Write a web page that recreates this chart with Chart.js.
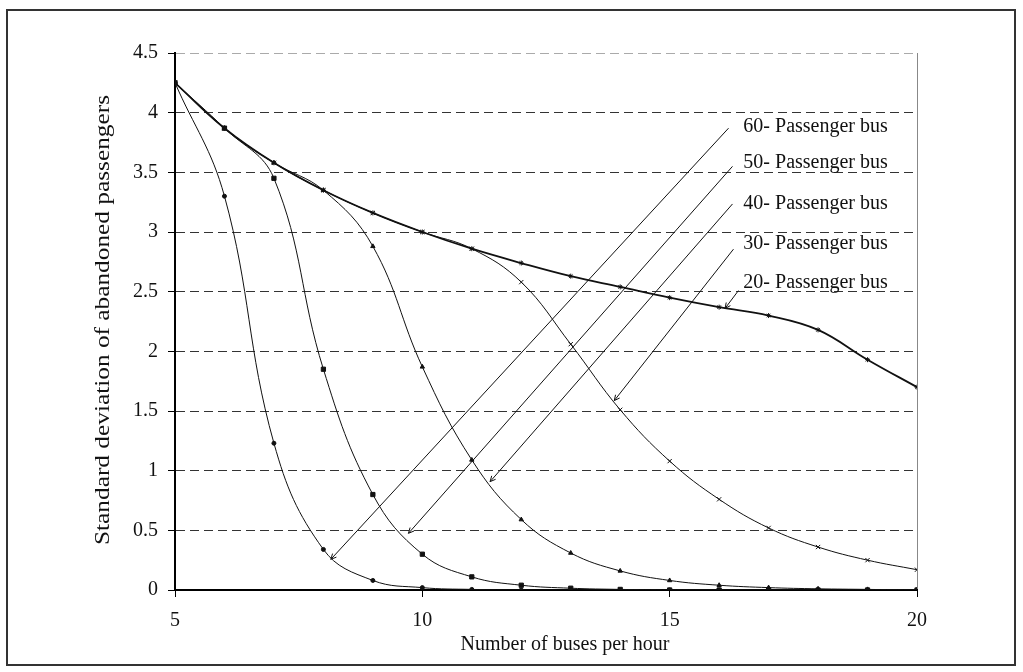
<!DOCTYPE html>
<html>
<head>
<meta charset="utf-8">
<script src="https://cdn.jsdelivr.net/npm/chart.js@4/dist/chart.umd.min.js"></script>
<style>
  html, body { margin: 0; padding: 0; background: #fff; }
</style>
</head>
<body>
<canvas id="grafico" width="1023" height="672"></canvas>
<script>
// Number of buses per hour
const buses = [5, 6, 7, 8, 9, 10, 11, 12, 13, 14, 15, 16, 17, 18, 19, 20];

// Standard deviation of abandoned passengers, one list per bus size
const sd60 = [4.25, 3.30, 1.23, 0.34, 0.08, 0.02, 0.005, 0, 0, 0, 0, 0, 0, 0, 0, 0];
const sd50 = [4.25, 3.87, 3.45, 1.85, 0.80, 0.30, 0.11, 0.04, 0.015, 0.005, 0, 0, 0, 0, 0, 0];
const sd40 = [4.25, 3.87, 3.58, 3.35, 2.88, 1.87, 1.09, 0.59, 0.31, 0.16, 0.08, 0.04, 0.02, 0.01, 0.005, 0];
const sd30 = [4.25, 3.87, 3.58, 3.35, 3.16, 3.00, 2.86, 2.58, 2.06, 1.51, 1.08, 0.76, 0.52, 0.36, 0.25, 0.17];
const sd20 = [4.25, 3.87, 3.58, 3.35, 3.16, 3.00, 2.86, 2.74, 2.63, 2.54, 2.45, 2.37, 2.30, 2.18, 1.93, 1.70];

const seriesNames = ['60- Passenger bus', '50- Passenger bus', '40- Passenger bus', '30- Passenger bus', '20- Passenger bus'];

const serif = 'Liberation Serif, Times New Roman, serif';

function pares(valores) {
  return buses.map((b, i) => ({ x: b, y: valores[i] }));
}

// label callouts: text anchor and arrow, in data units
const callouts = [
  { text: seriesNames[0], at: [16.49, 3.885], from: [16.19, 3.87], to: [8.15, 0.257] },
  { text: seriesNames[1], at: [16.49, 3.577], from: [16.27, 3.55], to: [9.72, 0.475] },
  { text: seriesNames[2], at: [16.49, 3.236], from: [16.27, 3.235], to: [11.37, 0.908] },
  { text: seriesNames[3], at: [16.49, 2.90], from: [16.29, 2.856], to: [13.88, 1.587] },
  { text: seriesNames[4], at: [16.49, 2.571], from: [16.39, 2.509], to: [16.12, 2.36] }
];

const notas = {
  id: 'notas',
  beforeDraw(chart) {
    const ctx = chart.ctx;
    ctx.save();
    ctx.fillStyle = '#fff';
    ctx.fillRect(0, 0, chart.width, chart.height);
    ctx.restore();
  },
  afterDraw(chart) {
    const { ctx, scales: { x, y } } = chart;
    ctx.save();
    ctx.strokeStyle = '#111';
    ctx.fillStyle = '#111';
    ctx.lineWidth = 1;
    ctx.font = '20px ' + serif;
    ctx.textBaseline = 'middle';
    ctx.textAlign = 'left';
    callouts.forEach(c => {
      const x1 = x.getPixelForValue(c.from[0]), y1 = y.getPixelForValue(c.from[1]);
      const x2 = x.getPixelForValue(c.to[0]), y2 = y.getPixelForValue(c.to[1]);
      ctx.beginPath();
      ctx.moveTo(x1, y1);
      ctx.lineTo(x2, y2);
      ctx.stroke();
      // small arrow head at the curve end
      const ang = Math.atan2(y2 - y1, x2 - x1);
      ctx.beginPath();
      ctx.moveTo(x2 - 6 * Math.cos(ang - 0.45), y2 - 6 * Math.sin(ang - 0.45));
      ctx.lineTo(x2, y2);
      ctx.lineTo(x2 - 6 * Math.cos(ang + 0.45), y2 - 6 * Math.sin(ang + 0.45));
      ctx.stroke();
      ctx.fillText(c.text, x.getPixelForValue(c.at[0]), y.getPixelForValue(c.at[1]));
    });

    // axis titles
    ctx.textAlign = 'center';
    ctx.fillText('Number of buses per hour', 565, 645);

    const yTitle = 'Standard deviation of abandoned passengers';
    const stretch = 450 / ctx.measureText(yTitle).width;
    ctx.save();
    ctx.translate(104, 320);
    ctx.rotate(-Math.PI / 2);
    ctx.scale(stretch, 1);
    ctx.fillText(yTitle, 0, 0);
    ctx.restore();

    // outer frame
    ctx.strokeStyle = '#333';
    ctx.lineWidth = 2;
    ctx.strokeRect(7, 10, 1008, 655);
    ctx.restore();
  }
};

const ctx = document.getElementById('grafico').getContext('2d');
const grafico = new Chart(ctx, {
  type: 'line',
  data: {
    datasets: [
      { label: seriesNames[0], data: pares(sd60), pointStyle: 'circle', pointRadius: 2, borderWidth: 1 },
      { label: seriesNames[1], data: pares(sd50), pointStyle: 'rect', pointRadius: 3, borderWidth: 1 },
      { label: seriesNames[2], data: pares(sd40), pointStyle: 'triangle', pointRadius: 2.5, borderWidth: 1 },
      { label: seriesNames[3], data: pares(sd30), pointStyle: 'crossRot', pointRadius: 3, borderWidth: 1 },
      { label: seriesNames[4], data: pares(sd20), pointStyle: 'star', pointRadius: 2.5, borderWidth: 1.8 }
    ].map(d => Object.assign({
      borderColor: '#111',
      backgroundColor: '#111',
      pointBorderColor: '#111',
      pointBackgroundColor: '#111',
      pointBorderWidth: 1,
      tension: 0.4,
      fill: false
    }, d))
  },
  options: {
    responsive: false,
    animation: false,
    layout: { padding: { top: 53, right: 106, bottom: 0, left: 0 } },
    plugins: {
      legend: { display: false },
      tooltip: { enabled: false }
    },
    scales: {
      x: {
        type: 'linear',
        min: 5,
        max: 20,
        afterFit: s => { s.height = 82; },
        border: { display: true, color: '#000', width: 2 },
        grid: {
          color: c => (c.tick && c.tick.value === 20 ? '#888' : 'rgba(0,0,0,0)'),
          tickColor: '#000',
          tickLength: 7,
          lineWidth: 1
        },
        ticks: {
          stepSize: 5,
          color: '#111',
          padding: 12,
          maxRotation: 0,
          font: { family: serif, size: 20 }
        }
      },
      y: {
        min: 0,
        max: 4.5,
        afterFit: s => { s.width = 175; },
        border: { display: true, color: '#000', width: 2, dash: [9, 5] },
        grid: {
          color: c => {
            if (!c.tick || c.tick.value === 0) return 'rgba(0,0,0,0)';
            return c.tick.value === 4.5 ? '#aaa' : '#333';
          },
          tickColor: '#000',
          tickLength: 7,
          tickBorderDash: [],
          lineWidth: 1
        },
        ticks: {
          stepSize: 0.5,
          color: '#111',
          padding: 10,
          font: { family: serif, size: 20 },
          callback: v => String(v)
        }
      }
    }
  },
  plugins: [notas]
});
</script>
</body>
</html>
